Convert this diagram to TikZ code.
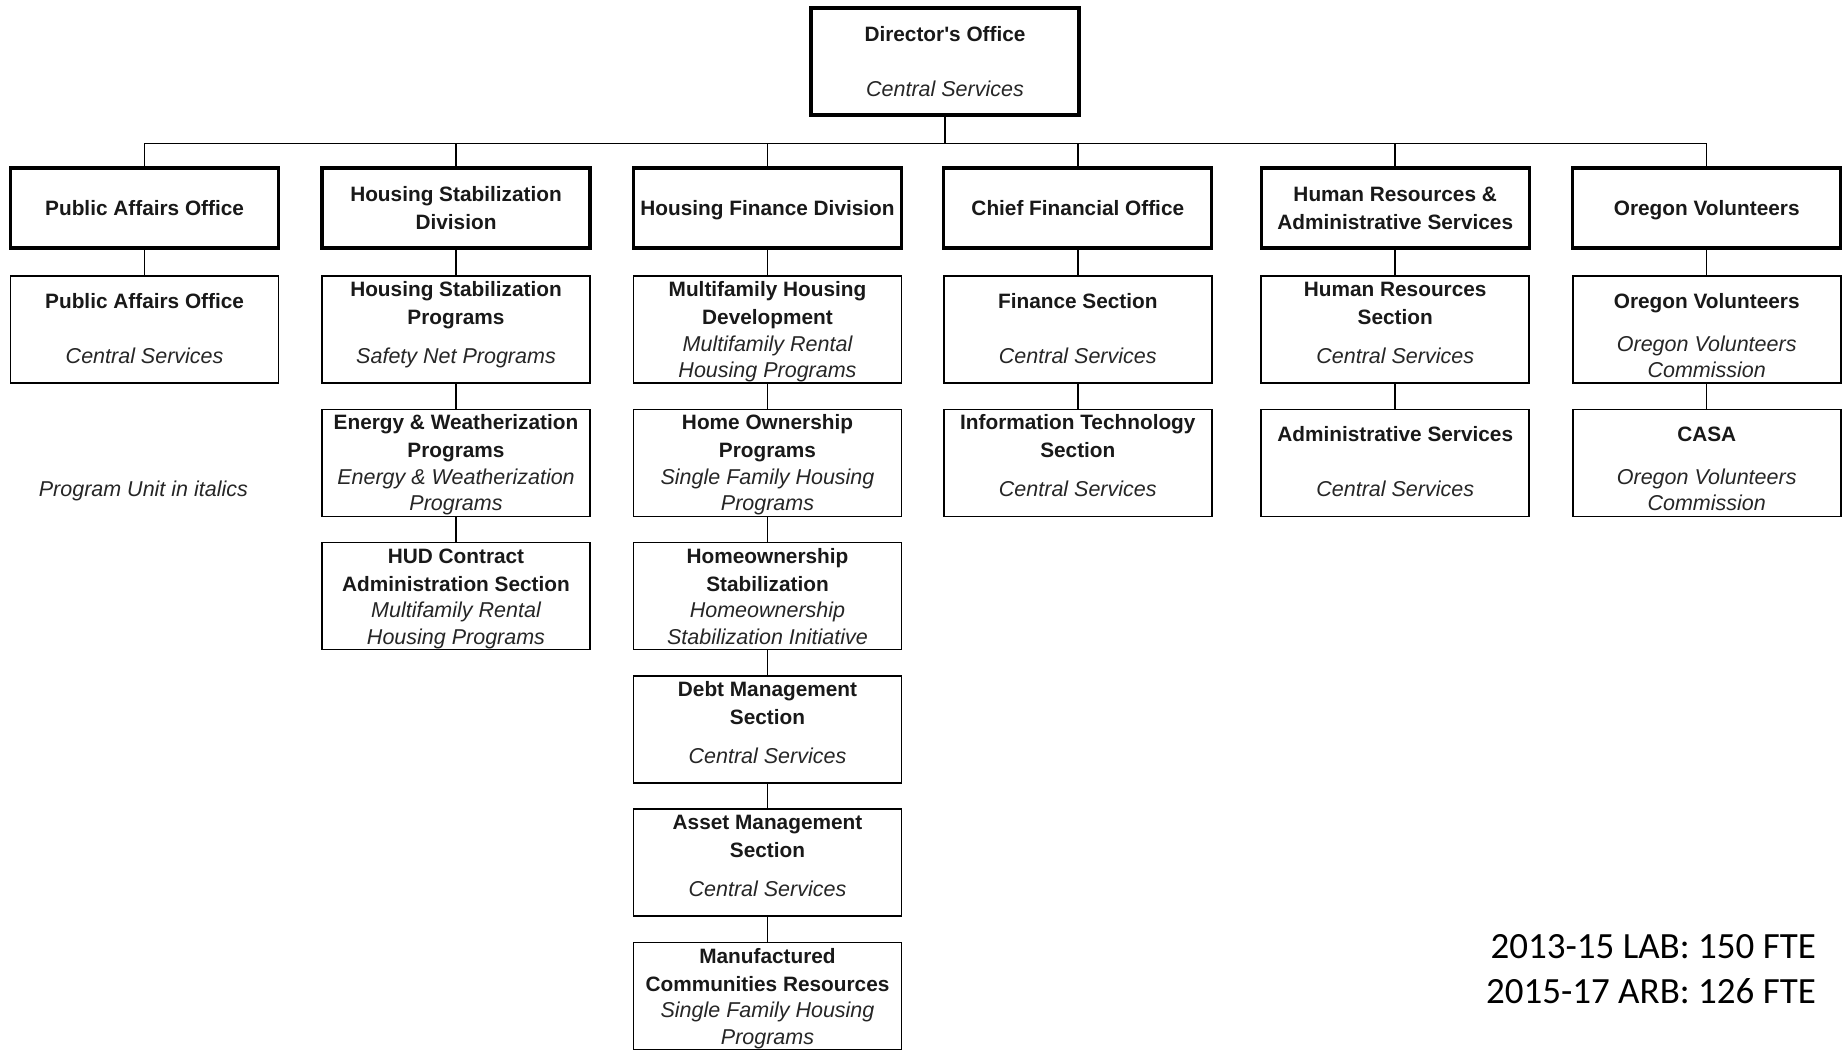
\documentclass[tikz,border=0pt]{standalone}
\usepackage{fontspec}
\setmainfont{Liberation Sans}
\newfontfamily\arial{Liberation Sans}
\newfontfamily\calib{Carlito}
\tikzset{
  thickbox/.style={draw=black, line width=3.2pt, minimum width=268pt, minimum height=80pt, inner sep=0pt,
     text depth=0pt, align=center, font=\arial\fontsize{20.8}{28}\selectfont\bfseries, text=black!90},
  dirbox/.style={draw=black, line width=3.2pt, minimum width=268pt, minimum height=107pt, inner sep=0pt},
  thinbox/.style={draw=black, line width=1.6pt, minimum width=268pt, minimum height=107pt, inner sep=0pt},
  btxt/.style={align=center, inner sep=0pt, font=\arial\fontsize{20.8}{28}\selectfont\bfseries, text=black!90},
  itxt/.style={align=center, inner sep=0pt, font=\arial\fontsize{21.5}{26.5}\selectfont\itshape, text=black!85},
  conn/.style={draw=black, line width=1.5pt},
}
% #1 name, #2 centre x, #3 top y, #4 last bold baseline below top, #5 bold text,
% #6 last italic baseline above bottom, #7 italic text
\newcommand{\ubox}[7]{%
  \node[thinbox] (#1) at (#2, #3+53.5) {};
  \node[btxt, anchor=base] (#1-b) at (#2, #3+#4) {#5};
  \node[itxt, anchor=base] (#1-i) at (#2, #3+107-#6) {#7};
}
\begin{document}
\begin{tikzpicture}[x=1pt, y=-1pt]
\useasboundingbox (0,0) rectangle (1843,1049);
\fill[white] (0,0) rectangle (1843,1049);
\def\BB{48.5}\def\BA{32}\def\IB{5.5}\def\IA{19.5}
% Director
\node[dirbox] (dir) at (945, 61.5) {};
\node[btxt, anchor=base] (dir-b) at (945, 41.5) {Director's Office};
\node[itxt, anchor=base] (dir-i) at (945, 96.5) {Central Services};
% level 1
\node[thickbox] (pa)  at (144.6, 208) {Public Affairs Office};
\node[thickbox] (hsd) at (456.0, 208) {Housing Stabilization\\Division};
\node[thickbox] (hfd) at (767.5, 208) {Housing Finance Division};
\node[thickbox] (cfo) at (1077.8, 208) {Chief Financial Office};
\node[thickbox] (hr)  at (1395.2, 208) {Human Resources \&\\Administrative Services};
\node[thickbox] (ov)  at (1706.7, 208) {Oregon Volunteers};
% level 2+
\ubox{pa1}{144.6}{276}{\BA}{Public Affairs Office}{\IA}{Central Services}
\ubox{hs1}{456.0}{276}{\BB}{Housing Stabilization\\Programs}{\IA}{Safety Net Programs}
\ubox{hf1}{767.5}{276}{\BB}{Multifamily Housing\\Development}{\IB}{Multifamily Rental\\Housing Programs}
\ubox{cf1}{1077.8}{276}{\BA}{Finance Section}{\IA}{Central Services}
\ubox{hr1}{1395.2}{276}{\BB}{Human Resources\\Section}{\IA}{Central Services}
\ubox{ov1}{1706.7}{276}{\BA}{Oregon Volunteers}{\IB}{Oregon Volunteers\\Commission}
\ubox{hs2}{456.0}{409.3}{\BB}{Energy \& Weatherization\\Programs}{\IB}{Energy \& Weatherization\\Programs}
\ubox{hf2}{767.5}{409.3}{\BB}{Home Ownership\\Programs}{\IB}{Single Family Housing\\Programs}
\ubox{cf2}{1077.8}{409.3}{\BB}{Information Technology\\Section}{\IA}{Central Services}
\ubox{hr2}{1395.2}{409.3}{\BA}{Administrative Services}{\IA}{Central Services}
\ubox{ov2}{1706.7}{409.3}{\BA}{CASA}{\IB}{Oregon Volunteers\\Commission}
\ubox{hs3}{456.0}{542.6}{\BB}{HUD Contract\\Administration Section}{\IB}{Multifamily Rental\\Housing Programs}
\ubox{hf3}{767.5}{542.6}{\BB}{Homeownership\\Stabilization}{\IB}{Homeownership\\Stabilization Initiative}
\ubox{hf4}{767.5}{675.9}{\BB}{Debt Management\\Section}{\IA}{Central Services}
\ubox{hf5}{767.5}{809.2}{\BB}{Asset Management\\Section}{\IA}{Central Services}
\ubox{hf6}{767.5}{942.5}{\BB}{Manufactured\\Communities Resources}{\IB}{Single Family Housing\\Programs}
% connectors
\coordinate (bar) at (0, 143.4);
\draw[conn] (dir.south) -- (dir.south |- bar);
\draw[conn] (pa.north) -- (pa.north |- bar) -- (ov.north |- bar) -- (ov.north);
\foreach \n in {hsd, hfd, cfo, hr} \draw[conn] (\n.north) -- (\n.north |- bar);
\draw[conn] (pa.south) -- (pa1.north);
\draw[conn] (hsd.south) -- (hs1.north);
\draw[conn] (hs1.south) -- (hs2.north);
\draw[conn] (hs2.south) -- (hs3.north);
\draw[conn] (hfd.south) -- (hf1.north);
\draw[conn] (hf1.south) -- (hf2.north);
\draw[conn] (hf2.south) -- (hf3.north);
\draw[conn] (hf3.south) -- (hf4.north);
\draw[conn] (hf4.south) -- (hf5.north);
\draw[conn] (hf5.south) -- (hf6.north);
\draw[conn] (cfo.south) -- (cf1.north);
\draw[conn] (cf1.south) -- (cf2.north);
\draw[conn] (hr.south) -- (hr1.north);
\draw[conn] (hr1.south) -- (hr2.north);
\draw[conn] (ov.south) -- (ov1.north);
\draw[conn] (ov1.south) -- (ov2.north);
% notes
\node[itxt, anchor=base] (note) at (143.4, 496.5) {Program Unit in italics};
\node[anchor=base east, inner sep=0pt, font=\fontsize{37}{45}\selectfont\calib] (fte1) at (1816, 958) {2013-15 LAB: 150 FTE};
\node[anchor=base east, inner sep=0pt, font=\fontsize{37}{45}\selectfont\calib] (fte2) at (1816, 1003) {2015-17 ARB: 126 FTE};
\end{tikzpicture}
\end{document}
